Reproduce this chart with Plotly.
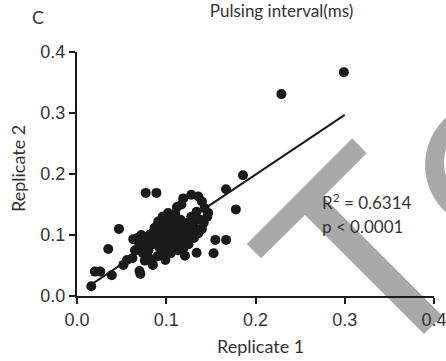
import math
import plotly.graph_objects as go

# ---- data ----
rep1 = [0.016, 0.020, 0.026, 0.039, 0.035, 0.047, 0.052, 0.056, 0.063, 0.065,
        0.070, 0.071, 0.072, 0.077, 0.089, 0.084, 0.085, 0.097, 0.099, 0.102,
        0.112, 0.119, 0.128, 0.136, 0.140, 0.134, 0.143, 0.147, 0.104, 0.130,
        0.136, 0.127, 0.155, 0.167, 0.153, 0.134, 0.121, 0.113, 0.167, 0.186,
        0.178, 0.229, 0.299, 0.075, 0.078, 0.080, 0.082, 0.085, 0.088, 0.090,
        0.092, 0.093, 0.095, 0.097, 0.098, 0.100, 0.102, 0.104, 0.106, 0.108,
        0.110, 0.112, 0.114, 0.116, 0.118, 0.120, 0.122, 0.124, 0.126, 0.128,
        0.132, 0.138, 0.140, 0.142, 0.079, 0.074, 0.083, 0.090, 0.094, 0.087,
        0.099, 0.108, 0.070, 0.068, 0.110, 0.116, 0.125, 0.131, 0.146, 0.110,
        0.117, 0.096, 0.091, 0.105, 0.076, 0.081, 0.101, 0.119, 0.062, 0.113,
        0.100]
rep2 = [0.016, 0.040, 0.040, 0.034, 0.077, 0.110, 0.051, 0.059, 0.093, 0.075,
        0.041, 0.036, 0.100, 0.169, 0.169, 0.103, 0.051, 0.073, 0.059, 0.136,
        0.146, 0.160, 0.166, 0.163, 0.155, 0.138, 0.144, 0.136, 0.122, 0.119,
        0.103, 0.100, 0.092, 0.092, 0.070, 0.071, 0.066, 0.075, 0.175, 0.198,
        0.142, 0.331, 0.367, 0.080, 0.088, 0.075, 0.095, 0.085, 0.100, 0.092,
        0.080, 0.108, 0.098, 0.088, 0.115, 0.105, 0.095, 0.085, 0.110, 0.100,
        0.118, 0.092, 0.108, 0.125, 0.102, 0.112, 0.095, 0.120, 0.108, 0.130,
        0.112, 0.125, 0.110, 0.120, 0.065, 0.070, 0.060, 0.065, 0.118, 0.112,
        0.125, 0.130, 0.085, 0.095, 0.083, 0.088, 0.085, 0.095, 0.130, 0.135,
        0.150, 0.130, 0.122, 0.070, 0.058, 0.100, 0.078, 0.078, 0.062, 0.111,
        0.081]

fit_slope = 0.98
fit_intercept = 0.003
fit_x = [0.015, 0.30]
fit_y = [fit_slope * v + fit_intercept for v in fit_x]

x_ticks = [0.0, 0.1, 0.2, 0.3, 0.4]
y_ticks = [0.0, 0.1, 0.2, 0.3, 0.4]
tick_text = ["0.0", "0.1", "0.2", "0.3", "0.4"]

# ---- layout geometry (pixels) ----
W, H = 446, 361
L, R, T, B = 77, 12, 52, 65
PW, PH = W - L - R, H - T - B


def px(xp):
    return (xp - L) / PW


def py(yp):
    return (H - B - yp) / PH


def poly(points):
    return "M " + " L ".join(f"{px(a):.4f},{py(b):.4f}" for a, b in points) + " Z"


def ring(cx, cy, r, n=48):
    pts = [(cx + r * math.cos(2 * math.pi * k / n), cy + r * math.sin(2 * math.pi * k / n))
           for k in range(n)]
    return poly(pts)


GRAY = "#a9a9a9"
TXT = "Lato"
TCOL = "#333"

fig = go.Figure()
fig.add_trace(go.Scatter(x=fit_x, y=fit_y, mode="lines",
                         line=dict(color="#1a1a1a", width=2), showlegend=False))
fig.add_trace(go.Scatter(x=rep1, y=rep2, mode="markers",
                         marker=dict(color="#1a1a1a", size=10, line=dict(width=0)),
                         showlegend=False, cliponaxis=False))

# watermark shapes (decorative)
shapes = [
    dict(type="path", xref="paper", yref="paper", layer="below",
         path=poly([(246.7, 244), (352.3, 138.3), (366.7, 153.3), (323.3, 196.7),
                    (442.3, 315.7), (424, 334), (305, 215), (261, 258.3)]),
         fillcolor=GRAY, line=dict(width=0)),
    dict(type="path", xref="paper", yref="paper", layer="below",
         path=ring(489, 165, 64) + " " + ring(489, 162, 45),
         fillrule="evenodd", fillcolor=GRAY, line=dict(width=0)),
]

annotations = [
    dict(text="C", xref="paper", yref="paper", x=px(38), y=py(17.5),
         xanchor="center", yanchor="middle", showarrow=False,
         font=dict(family=TXT, size=18, color=TCOL)),
    dict(text="R<sup>2</sup> = 0.6314", xref="paper", yref="paper", x=px(320), y=py(201),
         xanchor="left", yanchor="middle", showarrow=False,
         font=dict(family=TXT, size=17, color=TCOL)),
    dict(text="p < 0.0001", xref="paper", yref="paper", x=px(320), y=py(226),
         xanchor="left", yanchor="middle", showarrow=False,
         font=dict(family=TXT, size=17, color=TCOL)),
    dict(text="Replicate 1", xref="paper", yref="paper", x=px(260), y=py(346),
         xanchor="center", yanchor="middle", showarrow=False,
         font=dict(family=TXT, size=18, color=TCOL)),
    dict(text="Replicate 2", xref="paper", yref="paper", x=px(18), y=py(169),
         xanchor="center", yanchor="middle", showarrow=False, textangle=-90,
         font=dict(family=TXT, size=18, color=TCOL)),
]

axis_common = dict(range=[0, 0.4], showgrid=False, zeroline=False, showline=True,
                   linecolor="#1a1a1a", linewidth=2, ticks="outside", ticklen=6,
                   tickwidth=2, tickcolor="#1a1a1a", tickvals=x_ticks, ticktext=tick_text,
                   tickfont=dict(family="Liberation Sans", size=18, color=TCOL),
                   fixedrange=True, automargin=False, ticklabeloverflow="allow")

fig.update_layout(
    width=W, height=H,
    margin=dict(l=L, r=R, t=T, b=B, pad=0, autoexpand=False),
    paper_bgcolor="white", plot_bgcolor="rgba(0,0,0,0)",
    title=dict(text="Pulsing interval(ms)", x=281.5 / W, y=1 - 11 / H,
               xanchor="center", yanchor="middle",
               font=dict(family=TXT, size=17, color=TCOL)),
    xaxis=dict(axis_common),
    yaxis=dict(axis_common, tickvals=y_ticks),
    shapes=shapes, annotations=annotations, showlegend=False,
)

fig.write_html("out.html", config={"displayModeBar": False, "staticPlot": True},
               post_script="document.body.style.margin='0px';"
                           "document.body.style.overflow='hidden';")
